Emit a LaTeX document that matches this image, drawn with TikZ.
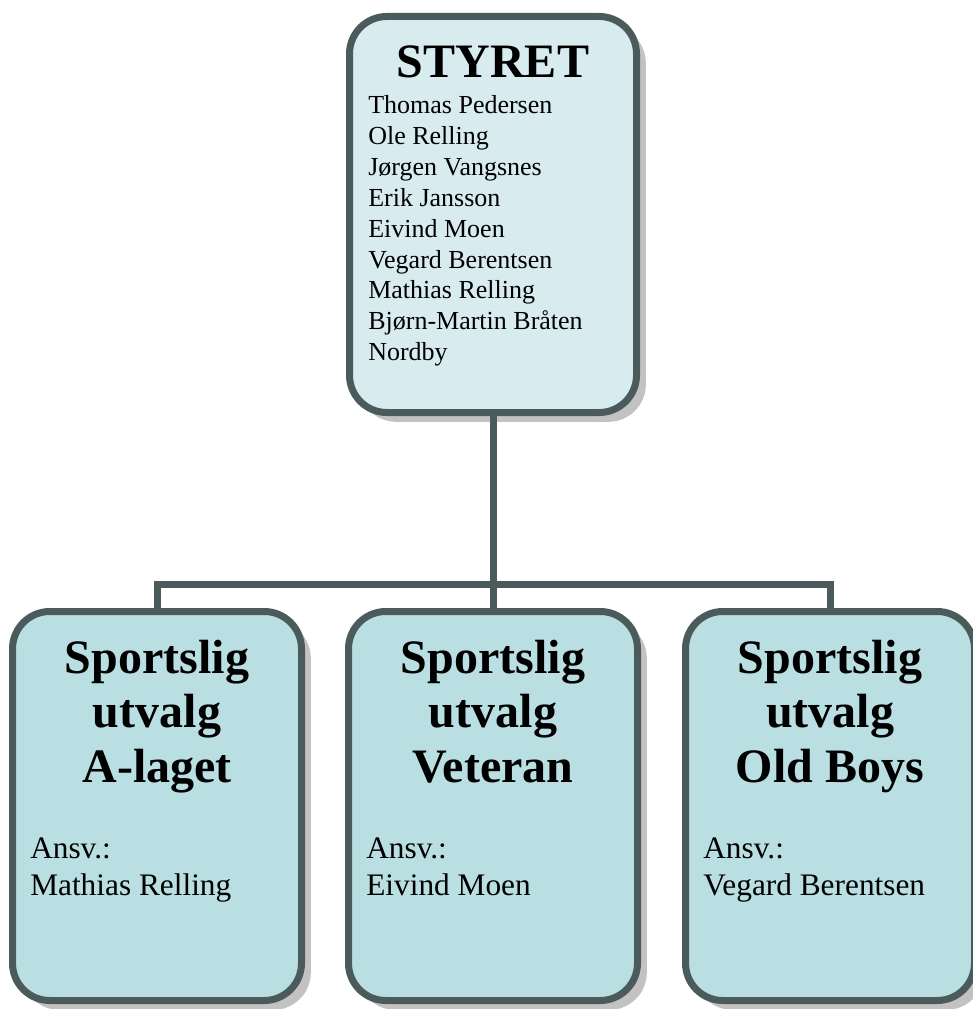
\documentclass[tikz,border=0pt]{standalone}
\usepackage{fontspec}
\setmainfont{Liberation Serif}
\usetikzlibrary{calc,shadows}
\definecolor{rim}{HTML}{4B5B5B}
\definecolor{topfill}{HTML}{D8ECEF}
\definecolor{subfill}{HTML}{BADFE3}
\definecolor{shade}{HTML}{C2C2C2}
\tikzset{
	box/.style={draw=rim, line width=5.25pt, rounded corners=28pt, inner sep=0pt,
		minimum width=216.75pt, minimum height=291.75pt,
		drop shadow={shadow xshift=7pt, shadow yshift=-7pt, fill=shade, opacity=1}},
	link/.style={draw=rim, line width=5.25pt},
	headline/.style={font=\fontsize{36}{41}\selectfont\bfseries, inner sep=0pt},
	nameline/.style={font=\fontsize{19.5}{23}\selectfont, inner sep=0pt, anchor=base west},
	ansvline/.style={font=\fontsize{23.5}{28}\selectfont, inner sep=0pt, anchor=base west}
}
\begin{document}
\begin{tikzpicture}[x=0.75pt, y=-0.75pt]
			%%%%% START %%%%%
			\useasboundingbox (0, 0) rectangle (973, 1009);
			
			% boxes
			\node[box, fill=topfill, minimum height=297pt, minimum width=215.25pt] (styret) at (493, 214.5) {};
			\node[box, fill=subfill] (aLag) at (157, 806) {};
			\node[box, fill=subfill] (veteran) at (493, 806) {};
			\node[box, fill=subfill] (oldBoys) at (830, 806) {};
			
			% connectors
			\coordinate (split) at (493, 584);
			\draw[link] (styret.south) -- (veteran.north);
			\draw[link] (aLag.north) -- (aLag.north |- split) -- (oldBoys.north |- split) -- (oldBoys.north);
			
			% board
			\node[headline, anchor=base] (styretTitle) at ($(styret.north)+(0, 65)$) {STYRET};
			\foreach \nm [count=\i from 0] in {Thomas Pedersen, Ole Relling, Jørgen Vangsnes, Erik Jansson, Eivind Moen, Vegard Berentsen, Mathias Relling, Bjørn-Martin Bråten, Nordby}
				\node[nameline] (member\i) at ($(styret.north west)+(22, 101+30.8*\i)$) {\nm};
			
			% committees
			\foreach \bx/\team/\who in {aLag/A-laget/Mathias Relling, veteran/Veteran/Eivind Moen, oldBoys/Old Boys/Vegard Berentsen}{
				\node[headline, anchor=base] (\bx-a) at ($(\bx.north)+(0, 65)$) {Sportslig};
				\node[headline, anchor=base] (\bx-b) at ($(\bx.north)+(0, 119)$) {utvalg};
				\node[headline, anchor=base] (\bx-c) at ($(\bx.north)+(0, 174)$) {\team};
				\node[ansvline] (\bx-d) at ($(\bx.north west)+(21, 250)$) {Ansv.:};
				\node[ansvline] (\bx-e) at ($(\bx.north west)+(21, 287)$) {\who};
			}
			%%%%% END %%%%%
\end{tikzpicture}
\end{document}
